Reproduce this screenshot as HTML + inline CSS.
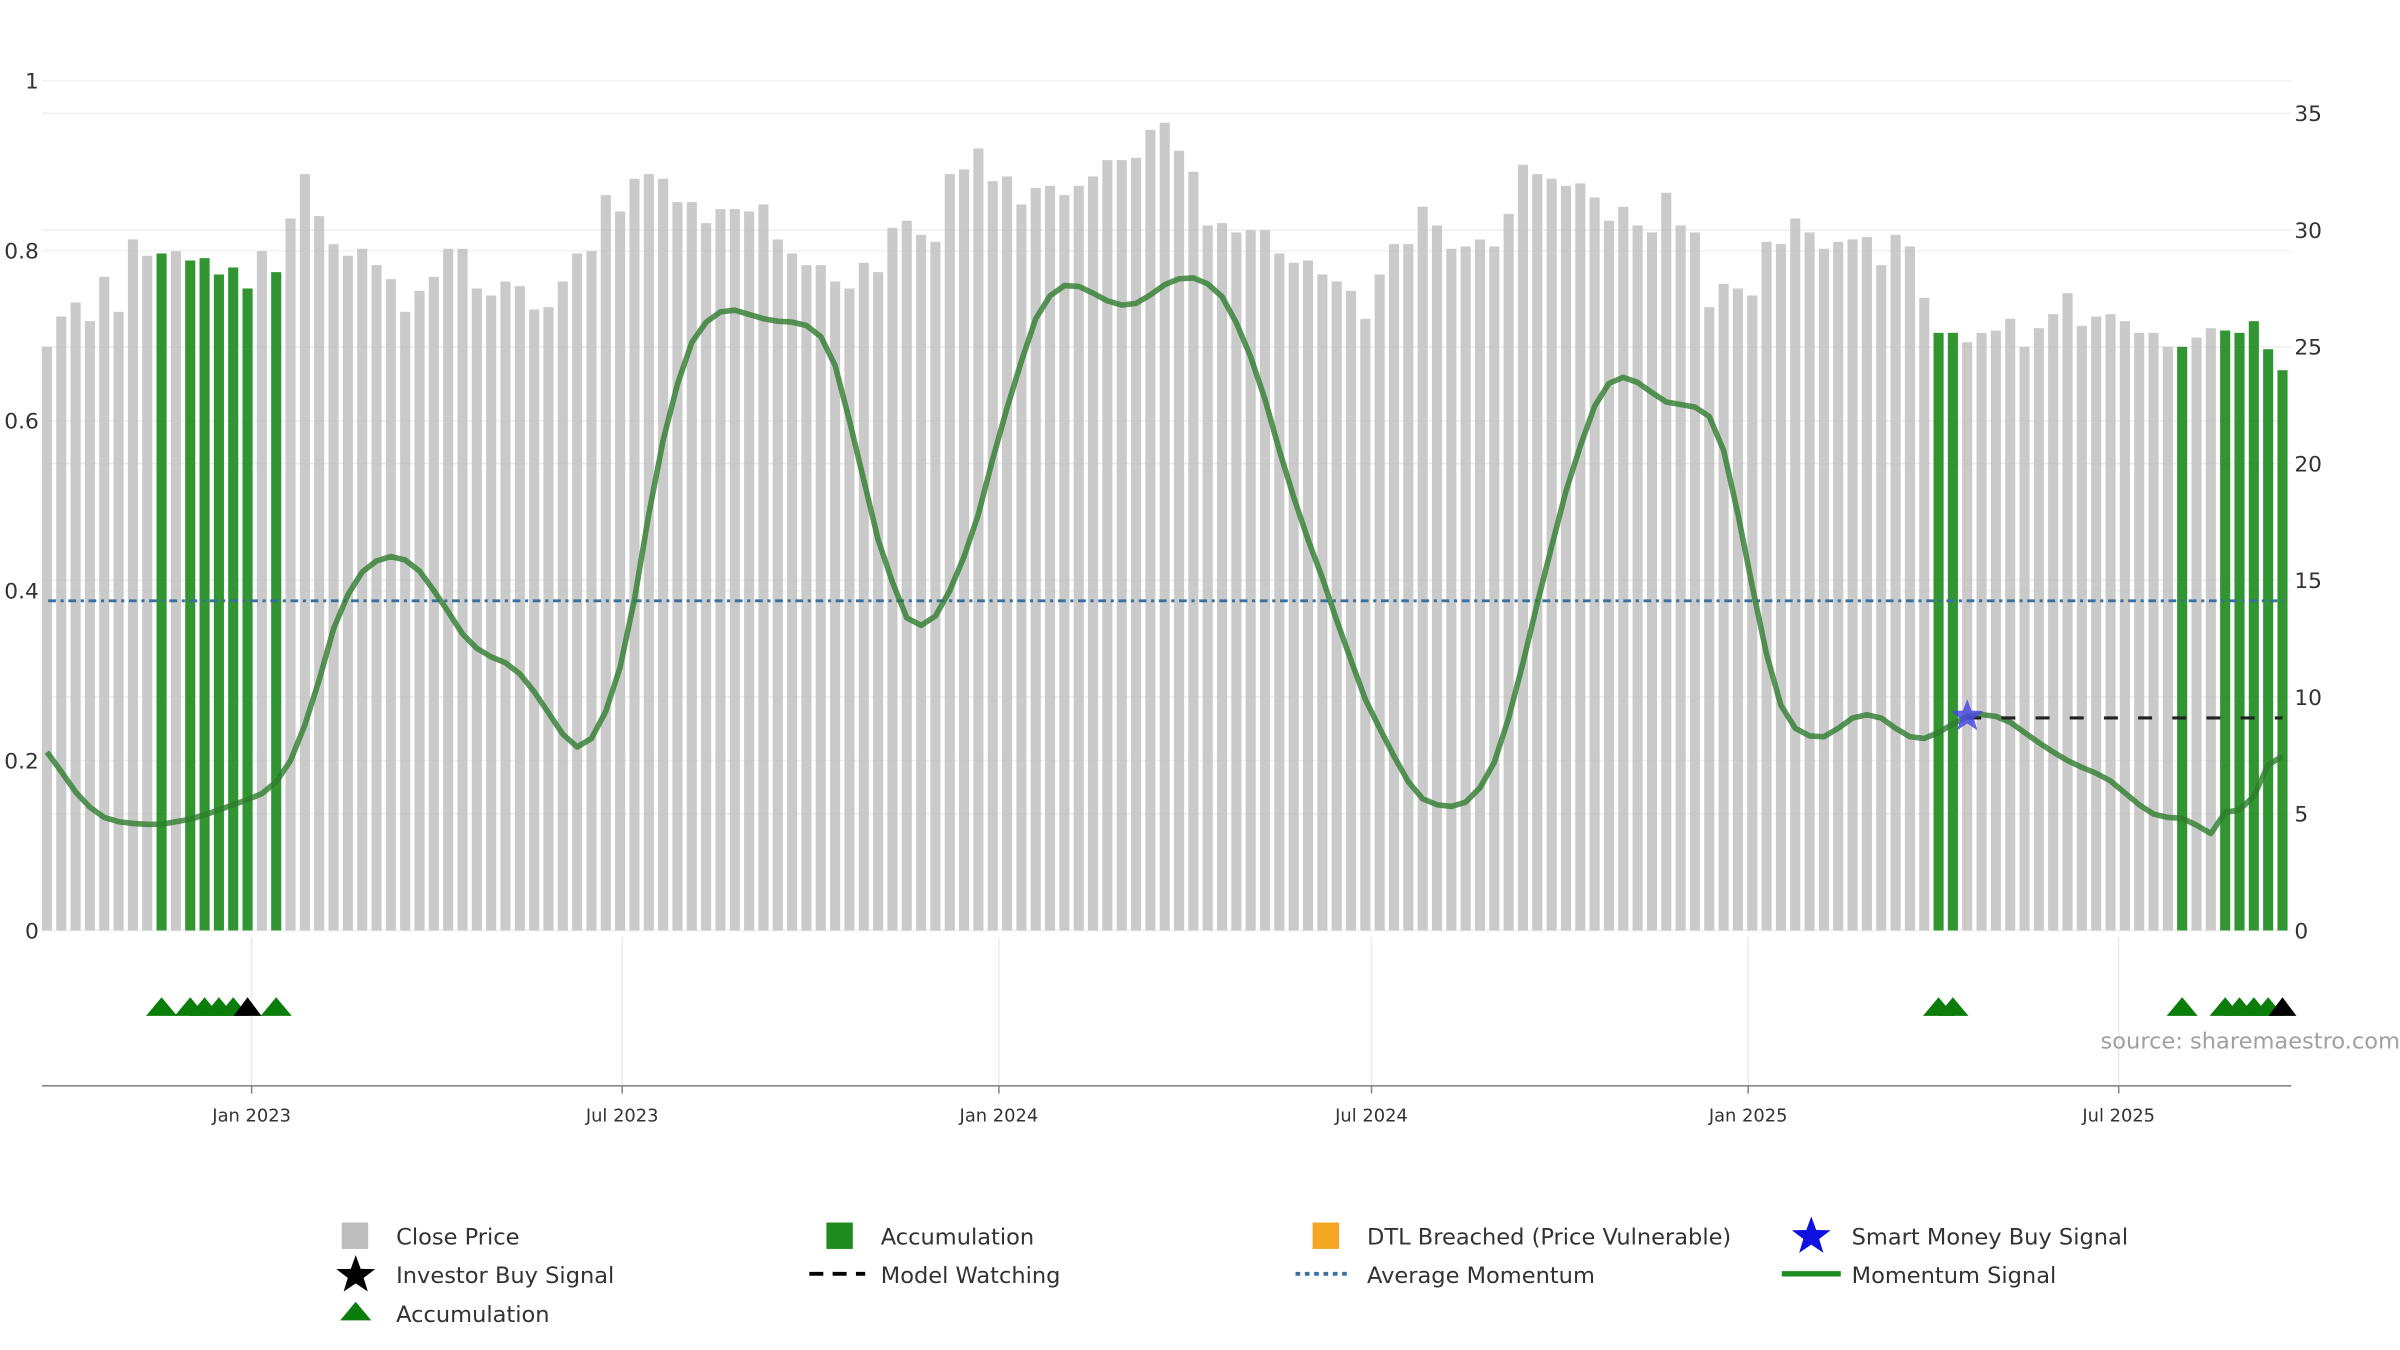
<!DOCTYPE html>
<html><head><meta charset="utf-8"><style>
html,body{margin:0;padding:0;background:#fff;}
svg{display:block;font-family:"DejaVu Sans","Liberation Sans",sans-serif;}
</style></head><body>
<svg id="chart" width="2400" height="1350" viewBox="0 0 1545 869.06" preserveAspectRatio="none" xmlns="http://www.w3.org/2000/svg">
<g id="grid"></g>
<g id="bars"></g>
<g id="lines"></g>
<g id="axes"></g>
<g id="markers"></g>
<text x="1545" y="675" text-anchor="end" font-size="14.5" fill="#a0a0a0">source: sharemaestro.com</text>
<g font-size="14.5" fill="#333">
  <g><rect x="220" y="787" width="17" height="17" fill="#bdbdbd"/><text x="255" y="801">Close Price</text></g>
  <g><rect x="532" y="787" width="17" height="17" fill="#1f8c1f"/><text x="567" y="801">Accumulation</text></g>
  <g><rect x="845" y="787" width="17" height="17" fill="#f5a623"/><text x="880" y="801">DTL Breached (Price Vulnerable)</text></g>
  <g><path d="M1166,783 L1169.2,791.8 L1178.5,792 L1171.1,797.6 L1173.8,806.5 L1166,801.2 L1158.2,806.5 L1160.9,797.6 L1153.5,792 L1162.8,791.8Z" fill="#1010e0"/><text x="1192" y="801">Smart Money Buy Signal</text></g>
  <g><path d="M229,808 L232.2,816.8 L241.5,817 L234.1,822.6 L236.8,831.5 L229,826.2 L221.2,831.5 L223.9,822.6 L216.5,817 L225.8,816.8Z" fill="#000"/><text x="255" y="826">Investor Buy Signal</text></g>
  <g><line x1="521" y1="820" x2="557" y2="820" stroke="#000" stroke-width="2.5" stroke-dasharray="9,6"/><text x="567" y="826">Model Watching</text></g>
  <g><line x1="834" y1="820" x2="870" y2="820" stroke="#3a70a0" stroke-width="2.5" stroke-dasharray="3,3"/><text x="880" y="826">Average Momentum</text></g>
  <g><line x1="1147" y1="820" x2="1185" y2="820" stroke="#1f8c1f" stroke-width="3.5"/><text x="1192" y="826">Momentum Signal</text></g>
  <g><path d="M219,850 L229,838 L239,850Z" fill="#0a7d0a"/><text x="255" y="851">Accumulation</text></g>
</g>
</svg>
<script>
const prices = [25.0,26.3,26.9,26.1,28.0,26.5,29.6,28.9,29.0,29.1,28.7,28.8,28.1,28.4,27.5,29.1,28.2,30.5,32.4,30.6,
29.4,28.9,29.2,28.5,27.9,26.5,27.4,28.0,29.2,29.2,27.5,27.2,27.8,27.6,26.6,26.7,27.8,29.0,29.1,31.5,
30.8,32.2,32.4,32.2,31.2,31.2,30.3,30.9,30.9,30.8,31.1,29.6,29.0,28.5,28.5,27.8,27.5,28.6,28.2,30.1,
30.4,29.8,29.5,32.4,32.6,33.5,32.1,32.3,31.1,31.8,31.9,31.5,31.9,32.3,33.0,33.0,33.1,34.3,34.6,33.4,
32.5,30.2,30.3,29.9,30.0,30.0,29.0,28.6,28.7,28.1,27.8,27.4,26.2,28.1,29.4,29.4,31.0,30.2,29.2,29.3,
29.6,29.3,30.7,32.8,32.4,32.2,31.9,32.0,31.4,30.4,31.0,30.2,29.9,31.6,30.2,29.9,26.7,27.7,27.5,27.2,
29.5,29.4,30.5,29.9,29.2,29.5,29.6,29.7,28.5,29.8,29.3,27.1,25.6,25.6,25.2,25.6,25.7,26.2,25.0,25.8,
26.4,27.3,25.9,26.3,26.4,26.1,25.6,25.6,25.0,25.0,25.4,25.8,25.7,25.6,26.1,24.9,24.0];
const momentum = [.21,.187,.163,.145,.133,.128,.126,.125,.125,.128,.131,.136,.142,.148,.154,.161,.175,.20,.242,.295,
.355,.395,.422,.435,.44,.436,.423,.40,.375,.349,.332,.322,.315,.302,.281,.256,.231,.216,.226,.258,
.31,.39,.49,.577,.643,.692,.716,.728,.730,.725,.72,.717,.716,.712,.699,.665,.60,.53,.46,.41,
.368,.359,.37,.40,.44,.49,.555,.615,.67,.72,.747,.759,.758,.75,.741,.736,.738,.748,.76,.767,
.768,.761,.746,.715,.675,.625,.565,.51,.46,.415,.365,.318,.272,.238,.205,.175,.155,.148,.146,.151,
.168,.198,.25,.315,.385,.452,.517,.57,.617,.644,.651,.645,.633,.622,.619,.616,.605,.565,.49,.405,
.325,.265,.238,.229,.228,.238,.25,.254,.25,.238,.228,.226,.233,.243,.252,.254,.252,.245,.233,.221,
.21,.2,.192,.185,.176,.162,.148,.137,.133,.132,.124,.114,.139,.142,.158,.195,.205];
const accumulationBars = [9,11,12,13,14,15,17,133,134,150,153,154,155,156,157];
const accumulationMarkers = [9,11,12,13,14,17,133,134,150,153,154,155,156];
const investorBuyMarkers = [15,157];
const smartMoneyBar = 135;
const averageMomentum = 0.388;
const dateTicks = ["2023-01-01","2023-07-01","2024-01-01","2024-07-01","2025-01-01","2025-07-01"];
const dateTickLabels = ["Jan 2023","Jul 2023","Jan 2024","Jul 2024","Jan 2025","Jul 2025"];
const leftTicks = [0,0.2,0.4,0.6,0.8,1];
const leftTickLabels = ["0","0.2","0.4","0.6","0.8","1"];
const rightTicks = [0,5,10,15,20,25,30,35];
const firstBarDate = "2022-09-23";

const NS="http://www.w3.org/2000/svg";
const X0=27,X1=1475,Y0=599;
const dayPx=1.3179;
const refDay=Date.UTC(2023,0,1);
function xDate(s){const d=new Date(s+"T00:00:00Z").getTime();return 162+(d-refDay)/86400000*dayPx;}
const firstX=xDate(firstBarDate);
function xBar(k){return firstX+(k-1)*7*dayPx;}
function yLeft(v){return Y0-v*547;}
function yRight(v){return Y0-v*(526/35);}
function mk(tag,attrs,parent){const e=document.createElementNS(NS,tag);for(const a in attrs)e.setAttribute(a,attrs[a]);parent.appendChild(e);return e;}
const grid=document.getElementById('grid'),bars=document.getElementById('bars'),lines=document.getElementById('lines'),axes=document.getElementById('axes'),markers=document.getElementById('markers');

rightTicks.forEach((t,i)=>{const y=yRight(t);
 const g=mk('line',{x1:X0,x2:X1,y1:y,y2:y,stroke:'#eeeeee','stroke-width':1},grid);
 
 
 const tx=mk('text',{x:1477,y:y+5,'font-size':14,fill:'#333'},axes);tx.textContent=String(t);
 
 
});
leftTicks.forEach((t,i)=>{const y=yLeft(t);
 const g=mk('line',{x1:X0,x2:X1,y1:y,y2:y,stroke:'#f2f2f2','stroke-width':1},grid);
 
 
 const tx=mk('text',{x:25,y:y+5,'font-size':14,fill:'#333','text-anchor':'end'},axes);tx.textContent=leftTickLabels[i];
 
 
});
dateTicks.forEach((d,i)=>{const x=xDate(d);
 const g=mk('line',{x1:x,x2:x,y1:603,y2:699,stroke:'#ececec','stroke-width':1},grid);
 
 
 mk('line',{x1:x,x2:x,y1:699,y2:704,stroke:'#888','stroke-width':1},axes);
 const tx=mk('text',{x:x,y:722,'font-size':11.5,fill:'#333','text-anchor':'middle'},axes);tx.textContent=dateTickLabels[i];
 
 
});
const ax=mk('line',{x1:X0,x2:X1,y1:699,y2:699,stroke:'#888','stroke-width':1},axes);



prices.forEach((p,i)=>{const k=i+1;const acc=accumulationBars.includes(k);
 const r=mk('rect',{x:xBar(k)-3.25,y:yRight(p),width:6.5,height:Y0-yRight(p),fill:acc?'#1f8c1f':'#bdbdbd','fill-opacity':acc?0.92:0.8},bars);
 
 
});

const avg=mk('line',{x1:31,x2:1470,y1:yLeft(averageMomentum),y2:yLeft(averageMomentum),stroke:'#3a70a0','stroke-width':1.8,'stroke-dasharray':'5,3,2,3'},lines);



let d='';momentum.forEach((v,i)=>{d+=(i?'L':'M')+xBar(i+1).toFixed(2)+','+yLeft(v).toFixed(2);});
const ml=mk('path',{d:d,fill:'none',stroke:'#2e7d2e','stroke-width':3.6,'stroke-opacity':0.8,'stroke-linejoin':'round'},lines);



const sx=xBar(smartMoneyBar),sy=yLeft(momentum[smartMoneyBar-1]);
const mw=mk('line',{x1:sx,x2:xBar(prices.length),y1:sy+1,y2:sy+1,stroke:'#222','stroke-width':2,'stroke-dasharray':'9,13'},lines);


function star(cx,cy,R){let p='';for(let i=0;i<10;i++){const r=i%2?R*0.42:R;const a=-Math.PI/2+i*Math.PI/5;p+=(i?'L':'M')+(cx+r*Math.cos(a)).toFixed(2)+','+(cy+r*Math.sin(a)).toFixed(2);}return p+'Z';}
const st=mk('path',{d:star(sx,sy,11),fill:'#4a4ae0','fill-opacity':0.85},markers);



accumulationMarkers.forEach(k=>{const x=xBar(k);
 const t=mk('path',{d:`M${x-10},654 L${x},642 L${x+10},654Z`,fill:'#0a7d0a'},markers);
 
 
});
investorBuyMarkers.forEach(k=>{const x=xBar(k);
 const t=mk('path',{d:`M${x-9},654 L${x},642 L${x+9},654Z`,fill:'#000'},markers);
 
 
});
</script>
</body></html>
